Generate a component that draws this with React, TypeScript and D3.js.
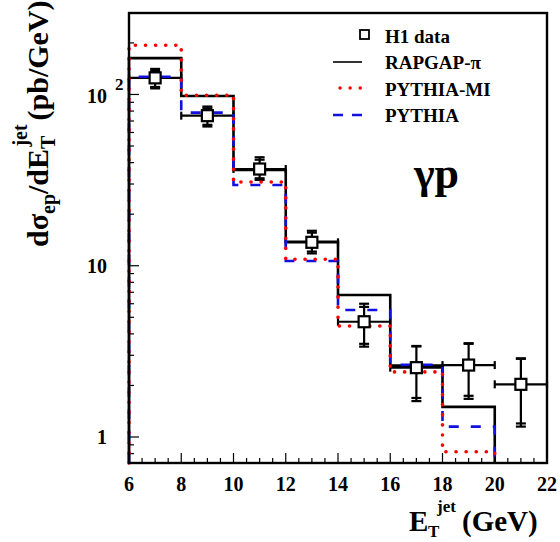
import React from "react";
import * as d3 from "d3";

// Bin edges of the E_T^jet histograms (GeV)
const binEdges = [6, 8, 10, 12, 14, 16, 18, 20];

// Model predictions per bin (pb/GeV)
const rapgapPi = [163, 98, 36.2, 13.8, 6.75, 2.61, 1.5];
const pythiaMI = [194, 99, 30.8, 10.9, 4.45, 2.4, 0.82];
const pythia = [127, 78.3, 29.6, 10.66, 5.51, 2.64, 1.15];

// H1 measurement
const dataX = [7, 9, 11, 13, 15, 17, 19, 21];
const dataHalfWidth = [1, 1, 1, 1, 1, 1, 1, 1];
const dataY = [125, 75.2, 36.7, 13.7, 4.71, 2.54, 2.63, 2.03];
const statHi = [137, 83, 41.6, 15.6, 5.75, 3.38, 3.5, 2.86];
const statLo = [110.6, 66.5, 32.4, 12.1, 3.5, 1.69, 1.74, 1.2];
const totHi = [141, 85, 43, 16.0, 6.0, 3.4, 3.53, 2.88];
const totLo = [108.5, 65, 31.7, 11.8, 3.37, 1.62, 1.67, 1.15];

const xTicks = [6, 8, 10, 12, 14, 16, 18, 20, 22];

const legendItems = ["H1 data", "RAPGAP-\u03c0", "PYTHIA-MI", "PYTHIA"];

const W = 560;
const H = 542;
const L = 129;
const R = 547;
const T = 13;
const B = 463;

const FONT = "'Liberation Serif', 'Times New Roman', serif";

export default function App() {
  const x = d3.scaleLinear().domain([6, 22]).range([L, R]);
  const y = d3.scaleLog().domain([0.705, 299]).range([B, T]);

  const yMin = y.domain()[0];

  const histPath = (vals: number[]) => {
    const pts: [number, number][] = [[binEdges[0], yMin]];
    vals.forEach((v, i) => {
      pts.push([binEdges[i], v]);
      pts.push([binEdges[i] + 2, v]);
    });
    pts.push([binEdges[vals.length - 1] + 2, yMin]);
    return d3
      .line<[number, number]>()
      .x((d) => x(d[0]))
      .y((d) => y(d[1]))(pts) as string;
  };

  // log-axis ticks
  const yMajor = [1, 10, 100];
  const yMinor: number[] = [];
  [0.1, 1, 10, 100].forEach((dec) => {
    for (let k = 2; k <= 9; k++) {
      const v = dec * k;
      if (v > y.domain()[0] && v < y.domain()[1]) yMinor.push(v);
    }
  });
  const xMinor = d3.range(6, 22.001, 0.5).filter((v) => v % 2 !== 0);

  const capW = 4;
  const sq = 5.5;

  return (
    <svg width={W} height={H} style={{ display: "block", position: "absolute", left: 0, top: 0 }}>
      <rect x={0} y={0} width={W} height={H} fill="white" />

      {/* axis ticks */}
      <g stroke="black" strokeWidth={1.2}>
        {yMajor.map((v) => (
          <line key={"ym" + v} x1={L} x2={L + 10} y1={y(v)} y2={y(v)} />
        ))}
        {yMinor.map((v) => (
          <line key={"yn" + v} x1={L} x2={L + 5} y1={y(v)} y2={y(v)} />
        ))}
        {xTicks.map((v) => (
          <line key={"xm" + v} x1={x(v)} x2={x(v)} y1={B} y2={B - 10} />
        ))}
        {xMinor.map((v) => (
          <line key={"xn" + v} x1={x(v)} x2={x(v)} y1={B} y2={B - 5} />
        ))}
      </g>

      {/* data error bars */}
      <g stroke="black" strokeWidth={2.2} fill="none">
        {dataX.map((cx, i) => {
          const px = x(cx);
          const x0 = x(cx - dataHalfWidth[i]);
          const x1 = x(cx + dataHalfWidth[i]);
          const py = y(dataY[i]);
          return (
            <g key={"e" + i}>
              <line x1={x0} x2={x1} y1={py} y2={py} />
              <line x1={x0} x2={x0} y1={py - capW} y2={py + capW} />
              <line x1={x1} x2={x1} y1={py - capW} y2={py + capW} />
              <line x1={px} x2={px} y1={y(totHi[i])} y2={y(totLo[i])} />
              {[statHi[i], statLo[i], totHi[i], totLo[i]].map((v, k) => (
                <line key={k} x1={px - capW - 1} x2={px + capW + 1} y1={y(v)} y2={y(v)} />
              ))}
            </g>
          );
        })}
      </g>

      {/* model histograms */}
      <path d={histPath(rapgapPi)} fill="none" stroke="black" strokeWidth={2.6} />
      <path
        d={histPath(pythia)}
        fill="none"
        stroke="#1010e0"
        strokeWidth={2.6}
        strokeDasharray="10 12"
      />
      <path
        d={histPath(pythiaMI)}
        fill="none"
        stroke="#ff0000"
        strokeWidth={3.6}
        strokeDasharray="0.1 10"
        strokeLinecap="round"
      />

      {/* data markers */}
      {dataX.map((cx, i) => (
        <rect
          key={"s" + i}
          x={x(cx) - sq}
          y={y(dataY[i]) - sq}
          width={sq * 2}
          height={sq * 2}
          fill="white"
          stroke="black"
          strokeWidth={2.2}
        />
      ))}

      {/* frame */}
      <rect x={L} y={T} width={R - L} height={B - T} fill="none" stroke="black" strokeWidth={2.4} />

      {/* y tick labels */}
      <g fontFamily={FONT} fontWeight="bold" fill="black">
        <text x={107} y={y(100) + 9} fontSize={20} textAnchor="end">10</text>
        <text x={115} y={y(100) - 4} fontSize={17}>2</text>
        <text x={107} y={y(10) + 7} fontSize={20} textAnchor="end">10</text>
        <text x={107} y={y(1) + 7} fontSize={20} textAnchor="end">1</text>
      </g>

      {/* x tick labels */}
      <g fontFamily={FONT} fontWeight="bold" fill="black" fontSize={20} textAnchor="middle">
        {xTicks.map((v) => (
          <text key={"xl" + v} x={x(v)} y={491}>{v}</text>
        ))}
      </g>

      {/* x axis title */}
      <g fontFamily={FONT} fontWeight="bold" fill="black">
        <text x={409} y={531} fontSize={29}>E</text>
        <text x={428} y={537} fontSize={17}>T</text>
        <text x={437} y={512} fontSize={17}>jet</text>
        <text x={462} y={531} fontSize={29}>(GeV)</text>
      </g>

      {/* y axis title */}
      <g transform="translate(48,247) rotate(-90)" fontFamily={FONT} fontWeight="bold" fill="black">
        <text x={0} y={0} fontSize={30}>
          <tspan>d</tspan>
          <tspan>{"\u03c3"}</tspan>
          <tspan fontSize={20} dy={7}>ep</tspan>
          <tspan dy={-7}>/dE</tspan>
          <tspan fontSize={20} dy={7}>T</tspan>
          <tspan fontSize={20} dx={-11} dy={-28}>jet</tspan>
          <tspan dx={4} dy={21}>(pb/GeV)</tspan>
        </text>
      </g>

      {/* gamma-p label */}
      <text x={414} y={188} fontFamily={FONT} fontWeight="bold" fontSize={44} fill="black">
        {"\u03b3p"}
      </text>

      {/* legend */}
      <g fontFamily={FONT} fontWeight="bold" fontSize={19} fill="black">
        <rect x={360} y={30} width={9} height={9} fill="white" stroke="black" strokeWidth={1.8} />
        <line x1={333} x2={362} y1={62} y2={62} stroke="black" strokeWidth={1.6} />
        <line
          x1={340}
          x2={361}
          y1={88}
          y2={88}
          stroke="#ff0000"
          strokeWidth={3.4}
          strokeDasharray="0.1 10"
          strokeLinecap="round"
        />
        <line x1={333} x2={364} y1={115} y2={115} stroke="#1010e0" strokeWidth={2.4} strokeDasharray="10 9" />
        {legendItems.map((t, i) => (
          <text key={t} x={385} y={43 + i * 26.3}>{t}</text>
        ))}
      </g>
    </svg>
  );
}
